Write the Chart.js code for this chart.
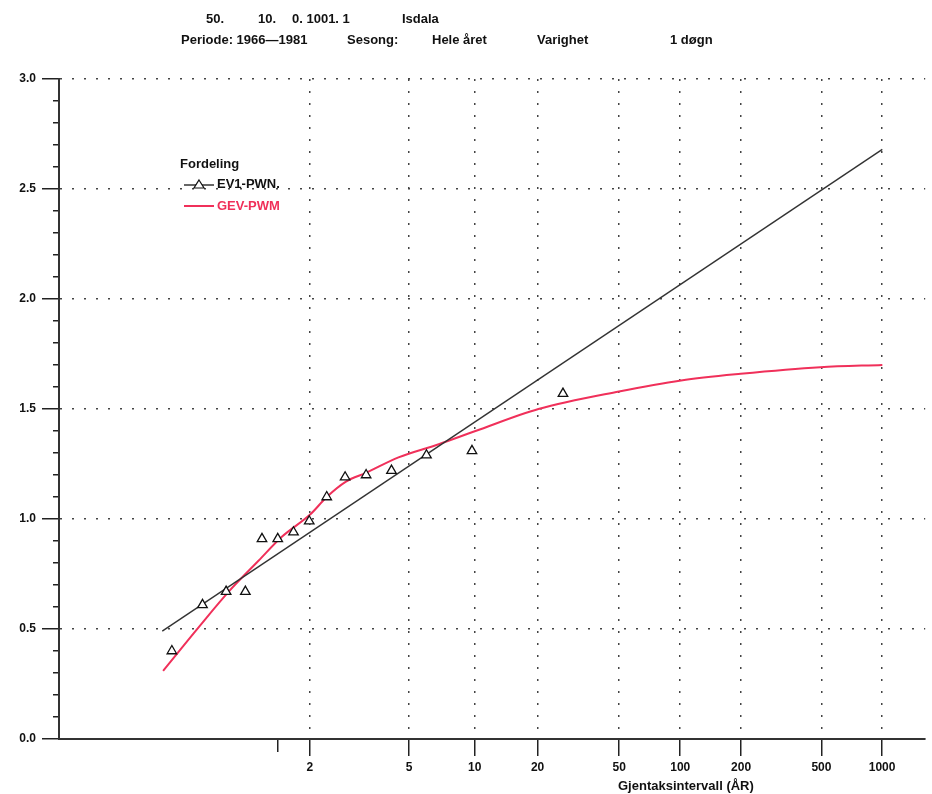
<!DOCTYPE html>
<html>
<head>
<meta charset="utf-8">
<script src="https://cdn.jsdelivr.net/npm/chart.js@4.4.0/dist/chart.umd.min.js"></script>
<style>
body { margin: 0; background: #fff; }
#wrap { position: relative; width: 932px; height: 794px; font-family: "Liberation Sans", Arial, sans-serif; color: #111; }
canvas { position: absolute; left: 0; top: 0; }
.t { position: absolute; font-size: 13px; font-weight: bold; white-space: pre; line-height: 14px; }
</style>
</head>
<body>
<div id="wrap">
  <canvas id="graf" width="932" height="794"></canvas>

  <!-- overskrift -->
  <span class="t" style="left:206px;top:12px">50.</span>
  <span class="t" style="left:258px;top:12px">10.</span>
  <span class="t" style="left:292px;top:12px">0. 1001. 1</span>
  <span class="t" style="left:402px;top:12px">Isdala</span>
  <span class="t" style="left:181px;top:33px">Periode: 1966—1981</span>
  <span class="t" style="left:347px;top:33px">Sesong:</span>
  <span class="t" style="left:432px;top:33px">Hele året</span>
  <span class="t" style="left:537px;top:33px">Varighet</span>
  <span class="t" style="left:670px;top:33px">1 døgn</span>

  <!-- tegnforklaring -->
  <span class="t" style="left:180px;top:157px">Fordeling</span>
  <svg style="position:absolute;left:183px;top:178px" width="32" height="12">
    <line x1="1" y1="7" x2="31" y2="7" stroke="#333" stroke-width="1.5"/>
    <polygon points="16,2 21,10 11,10" fill="#fff" stroke="#111" stroke-width="1.2"/>
  </svg>
  <span class="t" style="left:217px;top:177px">EV1-PWN.</span>
  <svg style="position:absolute;left:183px;top:200px" width="32" height="12">
    <line x1="1" y1="6" x2="31" y2="6" stroke="#f0305a" stroke-width="2"/>
  </svg>
  <span class="t" style="left:217px;top:199px;color:#f0305a">GEV-PWM</span>

  <span class="t" style="left:618px;top:779px">Gjentaksintervall (ÅR)</span>
</div>

<script>
// gjentaksintervall (år) på x-aksen, plassert etter Gumbels reduserte variat
var returPerioder    = [2, 5, 10, 20, 50, 100, 200, 500, 1000];
var periodeEtiketter = ['2', '5', '10', '20', '50', '100', '200', '500', '1000'];

// observasjoner (redusert variat, verdi)
var obsVariat = [-1.21, -0.86, -0.59, -0.37, -0.18, 0.00, 0.18, 0.36, 0.56, 0.77, 1.01, 1.30, 1.70, 2.22, 3.26];
var obsVerdi  = [0.40, 0.61, 0.67, 0.67, 0.91, 0.91, 0.94, 0.99, 1.10, 1.19, 1.20, 1.22, 1.29, 1.31, 1.57];

// EV1-PWM tilpasning (rett linje)
var ev1Variat = [-1.32, 6.91];
var ev1Verdi  = [0.49, 2.68];

// GEV-PWM tilpasning
var gevVariat = [-1.31, -0.90, -0.56, -0.22, 0.05, 0.37, 0.56, 0.78, 1.01, 1.38, 1.84, 2.26, 2.98, 3.90, 4.61, 5.29, 6.20, 6.91];
var gevVerdi  = [0.31, 0.51, 0.67, 0.81, 0.92, 1.02, 1.10, 1.17, 1.21, 1.28, 1.34, 1.40, 1.50, 1.58, 1.63, 1.66, 1.69, 1.70];

var yMin = 0, yMax = 3, ySteg = 0.1;

function gumbel(T) { return -Math.log(-Math.log(1 - 1 / T)); }
function par(xs, ys) { return xs.map(function (x, i) { return { x: x, y: ys[i] }; }); }
function erHoved(v) { return Math.abs(v * 2 - Math.round(v * 2)) < 1e-6; }

Chart.defaults.font.family = '"Liberation Sans", Arial, sans-serif';

new Chart(document.getElementById('graf'), {
    type: 'scatter',
    data: {
        datasets: [
            {
                label: 'Observert',
                data: par(obsVariat, obsVerdi),
                showLine: false,
                pointStyle: 'triangle',
                pointRadius: 5.5,
                pointBorderColor: '#111',
                pointBackgroundColor: '#fff',
                pointBorderWidth: 1.3,
                order: 0
            },
            {
                label: 'EV1-PWN.',
                data: par(ev1Variat, ev1Verdi),
                showLine: true,
                borderColor: '#333',
                borderWidth: 1.4,
                pointRadius: 0,
                order: 1
            },
            {
                label: 'GEV-PWM',
                data: par(gevVariat, gevVerdi),
                showLine: true,
                borderColor: '#f0305a',
                borderWidth: 2,
                pointRadius: 0,
                cubicInterpolationMode: 'monotone',
                order: 2
            }
        ]
    },
    options: {
        responsive: false,
        animation: false,
        layout: { padding: { top: 79, right: 4, left: 0, bottom: 0 } },
        plugins: { legend: { display: false }, tooltip: { enabled: false } },
        scales: {
            x: {
                type: 'linear',
                min: -2.5, max: 7.4,
                afterBuildTicks: function (s) {
                    s.ticks = [{ value: 0 }].concat(returPerioder.map(function (T) { return { value: gumbel(T) }; }));
                },
                afterFit: function (s) { s.height = 55; },
                ticks: {
                    autoSkip: false, maxRotation: 0, padding: 4, color: '#111',
                    font: { size: 12, weight: 'bold' },
                    callback: function (v, i) { return i === 0 ? '' : periodeEtiketter[i - 1]; }
                },
                grid: {
                    color: function (c) { return c.tick && c.tick.value === 0 ? 'rgba(0,0,0,0)' : '#444'; },
                    lineWidth: 1.5,
                    tickLength: 17,
                    tickColor: '#222',
                    tickWidth: 1.5,
                    tickBorderDash: function (c) { return c.tick && c.tick.value === 0 ? [12, 100] : []; }
                },
                border: { display: true, color: '#333', width: 2, dash: [2, 10] }
            },
            y: {
                type: 'linear',
                min: yMin, max: yMax,
                afterBuildTicks: function (s) {
                    var t = [];
                    for (var i = 0; i <= Math.round((yMax - yMin) / ySteg); i++) t.push({ value: i / 10 });
                    s.ticks = t;
                },
                afterFit: function (s) { s.width = 59; },
                ticks: {
                    autoSkip: false, padding: 6, color: '#111',
                    font: { size: 12, weight: 'bold' },
                    callback: function (v) { return erHoved(v) ? v.toFixed(1) : ''; }
                },
                grid: {
                    color: function (c) { return c.tick && erHoved(c.tick.value) ? '#444' : 'rgba(0,0,0,0)'; },
                    lineWidth: 1.5,
                    tickLength: 17,
                    tickColor: '#222',
                    tickWidth: 1.5,
                    tickBorderDash: function (c) { return c.tick && erHoved(c.tick.value) ? [] : [0, 11, 7, 100]; }
                },
                border: { display: true, color: '#333', width: 2, dash: [2, 10] }
            }
        }
    }
});
</script>
</body>
</html>
